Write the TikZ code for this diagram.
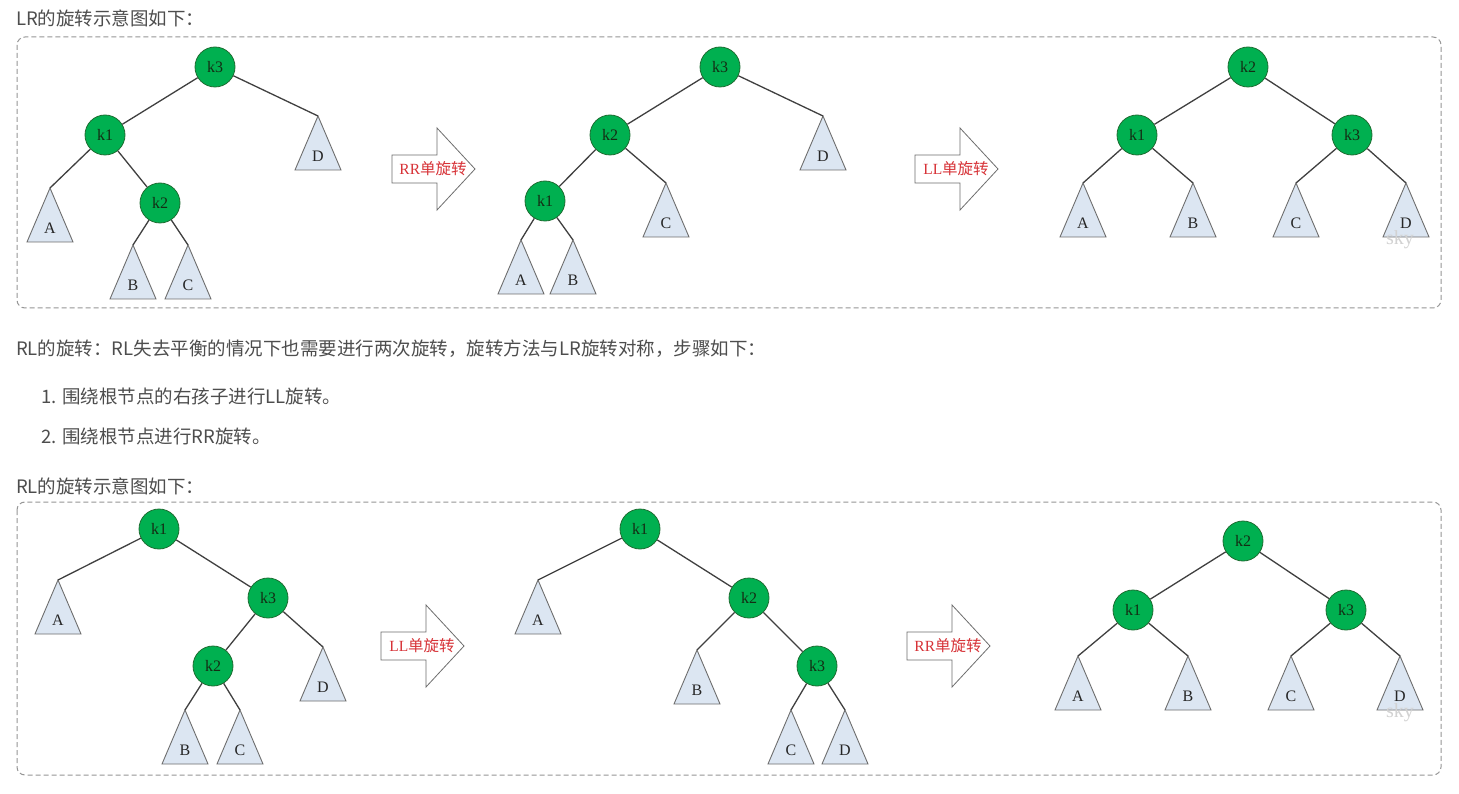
\documentclass[tikz,border=0pt]{standalone}
\usepackage{fontspec}
\setmainfont{Liberation Serif}
\newfontfamily\cjk{Noto Sans CJK SC}
\definecolor{txt}{RGB}{77,77,77}
\definecolor{gfill}{RGB}{0,176,80}
\definecolor{gdraw}{RGB}{30,110,50}
\definecolor{gtext}{RGB}{20,45,20}
\definecolor{edgec}{RGB}{64,64,64}
\definecolor{tfill}{RGB}{220,230,242}
\definecolor{tdraw}{RGB}{110,110,110}
\definecolor{arrred}{RGB}{215,50,55}
\definecolor{panel}{RGB}{150,150,150}
\definecolor{wm}{RGB}{210,210,210}
\tikzset{
  knode/.style={circle,fill=gfill,draw=gdraw,line width=0.8pt,minimum size=40pt,inner sep=0pt,
    text=gtext,font=\fontsize{16}{16}\selectfont},
  edge/.style={draw=edgec,line width=1.3pt},
  tri/.style={fill=tfill,draw=tdraw,line width=0.9pt,line join=miter},
  tlab/.style={inner sep=0pt,text=black!85,font=\fontsize{16}{16}\selectfont},
  panelbox/.style={draw=panel,line width=1pt,dash pattern=on 5pt off 3pt,rounded corners=8pt},
  hdr/.style={anchor=west,inner sep=0pt,text=txt,font=\cjk\fontsize{18.5}{18.5}\selectfont},
  bigarr/.style={fill=white,draw=tdraw,line width=0.8pt},
  arrlab/.style={inner sep=0pt,text=arrred,font=\fontsize{15.5}{15.5}\selectfont},
  wmark/.style={inner sep=0pt,text=wm,font=\fontsize{20}{20}\selectfont}
}
% subtree triangle: name, apex x, apex y, label
\newcommand\stree[4]{%
  \coordinate (#1) at (#2,#3);
  \draw[tri] (#1) -- ++(-23,54) -- ++(46,0) -- cycle;
  \node[tlab] (#1l) at (#2,#3+40) {#4};}
% big arrow: name, shaft left x, centre y, label
\newcommand\rotarrow[4]{%
  \draw[bigarr] (#2,#3-14) -- (#2+45,#3-14) -- (#2+45,#3-41) -- (#2+83,#3)
     -- (#2+45,#3+41) -- (#2+45,#3+14) -- (#2,#3+14) -- cycle;
  \node[arrlab] (#1) at (#2+41,#3) {#4};}
\begin{document}
\begin{tikzpicture}[x=1pt,y=-1pt]
\useasboundingbox (0,0) rectangle (1459,794);
\fill[white] (0,0) rectangle (1459,794);

% ---------- texts ----------
\node[hdr] (h1) at (16,18) {LR的旋转示意图如下：};
\node[hdr] (h2) at (16,349) {RL的旋转：RL失去平衡的情况下也需要进行两次旋转，旋转方法与LR旋转对称，步骤如下：};
\node[hdr] (h3) at (41,396) {1. 围绕根节点的右孩子进行LL旋转。};
\node[hdr] (h4) at (41,436) {2. 围绕根节点进行RR旋转。};
\node[hdr] (h5) at (16,486) {RL的旋转示意图如下：};

% ---------- panels ----------
\draw[panelbox] (17,37) rectangle (1441,308);
\draw[panelbox] (17,502) rectangle (1441,775);

% ================= LR : tree 1 =================
\node[knode] (a3) at (215,67) {k3};
\node[knode] (a1) at (105,135) {k1};
\node[knode] (a2) at (160,203) {k2};
\stree{aD}{318}{116}{D}
\stree{aA}{50}{188}{A}
\stree{aB}{133}{245}{B}
\stree{aC}{188}{245}{C}
\draw[edge] (a3) -- (a1);
\draw[edge] (a3) -- (aD);
\draw[edge] (a1) -- (aA);
\draw[edge] (a1) -- (a2);
\draw[edge] (a2) -- (aB);
\draw[edge] (a2) -- (aC);

\rotarrow{ar1}{392}{169}{RR{\cjk 单旋转}}

% ================= LR : tree 2 =================
\node[knode] (b3) at (720,67) {k3};
\node[knode] (b2) at (610,135) {k2};
\node[knode] (b1) at (545,201) {k1};
\stree{bD}{823}{116}{D}
\stree{bC}{666}{183}{C}
\stree{bA}{521}{240}{A}
\stree{bB}{573}{240}{B}
\draw[edge] (b3) -- (b2);
\draw[edge] (b3) -- (bD);
\draw[edge] (b2) -- (b1);
\draw[edge] (b2) -- (bC);
\draw[edge] (b1) -- (bA);
\draw[edge] (b1) -- (bB);

\rotarrow{ar2}{915}{169}{LL{\cjk 单旋转}}

% ================= LR : tree 3 =================
\node[knode] (c2) at (1248,67) {k2};
\node[knode] (c1) at (1137,135) {k1};
\node[knode] (c3) at (1352,135) {k3};
\stree{cA}{1083}{183}{A}
\stree{cB}{1193}{183}{B}
\stree{cC}{1296}{183}{C}
\stree{cD}{1406}{183}{D}
\draw[edge] (c2) -- (c1);
\draw[edge] (c2) -- (c3);
\draw[edge] (c1) -- (cA);
\draw[edge] (c1) -- (cB);
\draw[edge] (c3) -- (cC);
\draw[edge] (c3) -- (cD);
\node[wmark] (wm1) at (1400,240) {sky};

% ================= RL : tree 4 =================
\node[knode] (d1) at (159,529) {k1};
\node[knode] (d3) at (268,598) {k3};
\node[knode] (d2) at (213,666) {k2};
\stree{dA}{58}{580}{A}
\stree{dD}{323}{647}{D}
\stree{dB}{185}{710}{B}
\stree{dC}{240}{710}{C}
\draw[edge] (d1) -- (dA);
\draw[edge] (d1) -- (d3);
\draw[edge] (d3) -- (d2);
\draw[edge] (d3) -- (dD);
\draw[edge] (d2) -- (dB);
\draw[edge] (d2) -- (dC);

\rotarrow{ar3}{381}{646}{LL{\cjk 单旋转}}

% ================= RL : tree 5 =================
\node[knode] (e1) at (640,529) {k1};
\node[knode] (e2) at (749,598) {k2};
\node[knode] (e3) at (817,666) {k3};
\stree{eA}{538}{580}{A}
\stree{eB}{697}{650}{B}
\stree{eC}{791}{710}{C}
\stree{eD}{845}{710}{D}
\draw[edge] (e1) -- (eA);
\draw[edge] (e1) -- (e2);
\draw[edge] (e2) -- (eB);
\draw[edge] (e2) -- (e3);
\draw[edge] (e3) -- (eC);
\draw[edge] (e3) -- (eD);

\rotarrow{ar4}{907}{646}{RR{\cjk 单旋转}}

% ================= RL : tree 6 =================
\node[knode] (f2) at (1243,541) {k2};
\node[knode] (f1) at (1133,610) {k1};
\node[knode] (f3) at (1346,610) {k3};
\stree{fA}{1078}{656}{A}
\stree{fB}{1188}{656}{B}
\stree{fC}{1291}{656}{C}
\stree{fD}{1400}{656}{D}
\draw[edge] (f2) -- (f1);
\draw[edge] (f2) -- (f3);
\draw[edge] (f1) -- (fA);
\draw[edge] (f1) -- (fB);
\draw[edge] (f3) -- (fC);
\draw[edge] (f3) -- (fD);
\node[wmark] (wm2) at (1400,713) {sky};
\end{tikzpicture}
\end{document}
